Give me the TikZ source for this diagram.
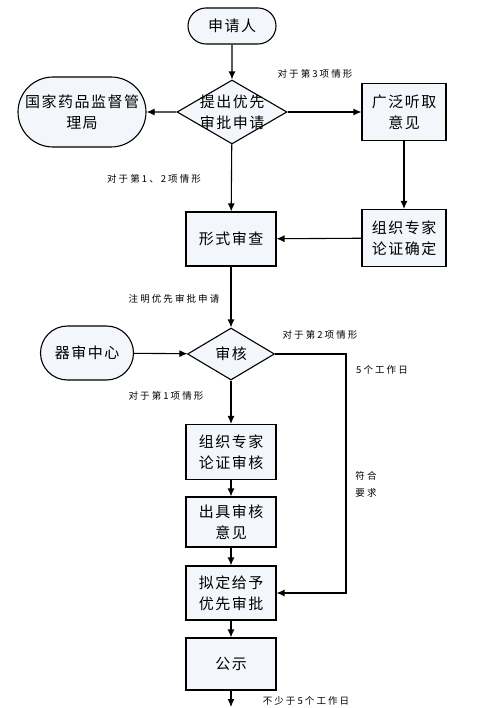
\documentclass[tikz,border=0pt]{standalone}
\usepackage{fontspec}
\setmainfont{Noto Sans CJK SC}
\newfontfamily\bigcjk[LetterSpace=10]{Noto Sans CJK SC}
\newfontfamily\smallcjk[LetterSpace=22]{Noto Sans CJK SC}
\usepackage{xcolor}
\definecolor{boxfill}{HTML}{F3F6FB}
\usepackage{tikz}
\usetikzlibrary{arrows.meta,positioning,shapes.geometric,shapes.misc}

\begin{document}
\begin{tikzpicture}[x=1pt,y=-1pt,>={Latex[length=8pt,width=7pt]},line width=1.1pt,
    box/.style={draw,fill=boxfill,align=center,inner sep=1pt,font=\bigcjk\fontsize{15}{21}\selectfont},
    term/.style={box,rounded rectangle},
    choice/.style={box,diamond,inner sep=0pt},
    choicetext/.style={label={[align=center,font=\bigcjk\fontsize{15}{21}\selectfont]center:#1}},
    note/.style={font=\smallcjk\fontsize{9.5}{17}\selectfont,align=center,inner sep=0pt}]
    \useasboundingbox (0,0) rectangle (486,708);
    % upper part
    \node[term,minimum width=90pt,minimum height=36pt] (applicant) at (232,26) {申请人};
    \node[choice,minimum width=110pt,minimum height=64pt,choicetext={提出优先\\审批申请}] (apply) at (232,112) {};
    \node[term,minimum width=130pt,minimum height=70pt] (nmpa) at (82,112) {国家药品监督管\\理局};
    \node[box,minimum width=84pt,minimum height=57pt] (hear) at (404,112) {广泛听取\\意见};
    \node[box,minimum width=90pt,minimum height=54pt] (formal) at (231,239) {形式审查};
    \node[box,minimum width=84pt,minimum height=57pt] (expert) at (404,238) {组织专家\\论证确定};
    % lower part
    \node[choice,minimum width=87pt,minimum height=52pt,choicetext={审核}] (review) at (231,354) {};
    \node[term,minimum width=95pt,minimum height=54pt] (center) at (87,353) {器审中心};
    \node[box,minimum width=90pt,minimum height=55pt] (expertrev) at (231,452) {组织专家\\论证审核};
    \node[box,minimum width=90pt,minimum height=50pt] (opinion) at (231,522) {出具审核\\意见};
    \node[box,minimum width=90pt,minimum height=54pt] (draft) at (231,593) {拟定给予\\优先审批};
    \node[box,minimum width=90pt,minimum height=52pt] (publicity) at (231,664) {公示};
    \coordinate (out) at (231,707);
    \coordinate (turn) at (346,354);
    % notes
    \node[note] (n3) at (315,74) {对于第3项情形};
    \node[note] (n12) at (154,179) {对于第1、2项情形};
    \node[note] (nmark) at (174,299) {注明优先审批申请};
    \node[note] (n2) at (320,335) {对于第2项情形};
    \node[note] (ndays) at (382,370) {5个工作日};
    \node[note] (n1) at (166,396) {对于第1项情形};
    \node[note] (nok) at (366,484) {符合\\要求};
    \node[note] (npub) at (306,701) {不少于5个工作日};
    % connectors
    \draw[->] (applicant) -- (apply);
    \draw[->] (apply) -- (nmpa);
    \draw[->] (apply) -- (hear);
    \draw[->] (apply) -- (formal);
    \draw[->] (hear) -- (expert);
    \draw[->] (expert) -- (formal);
    \draw[->] (formal) -- (review);
    \draw[->] (center) -- (review);
    \draw[->] (review) -- (expertrev);
    \draw[->] (expertrev) -- (opinion);
    \draw[->] (opinion) -- (draft);
    \draw[->] (draft) -- (publicity);
    \draw[->] (publicity) -- (out);
    \draw[->] (review.east) -- (turn) |- (draft.east);
\end{tikzpicture}
\end{document}
